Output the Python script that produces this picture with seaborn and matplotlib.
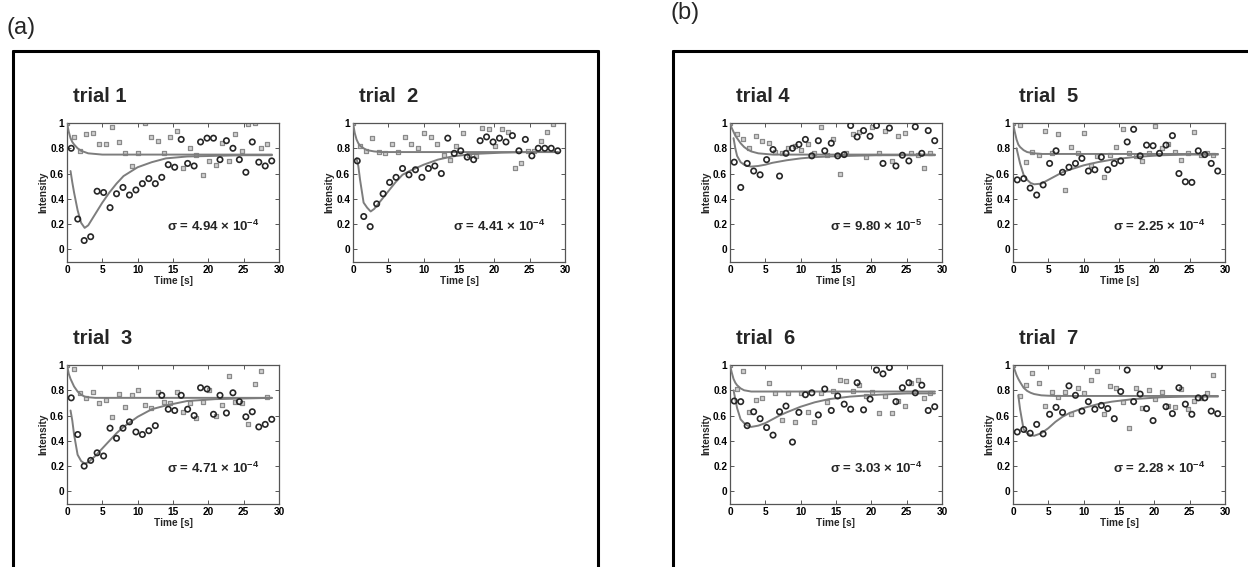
import numpy as np
import pandas as pd
import matplotlib
matplotlib.use("Agg")
import matplotlib.pyplot as plt
import seaborn as sns
from matplotlib.lines import Line2D

nan = np.nan

# ---------------- data ----------------
# sampling times of the two measured series (s)
T_SQ = [0.00, 0.92, 1.83, 2.75, 3.66, 4.58, 5.49, 6.41, 7.32, 8.24, 9.15, 10.07,
        10.98, 11.90, 12.81, 13.73, 14.64, 15.56, 16.47, 17.39, 18.30, 19.22,
        20.13, 21.05, 21.96, 22.88, 23.79, 24.71, 25.62, 26.54, 27.45, 28.37]
T_CI = [0.60, 1.52, 2.43, 3.35, 4.26, 5.18, 6.09, 7.01, 7.92, 8.84, 9.75, 10.67,
        11.58, 12.50, 13.41, 14.33, 15.24, 16.16, 17.07, 17.99, 18.90, 19.82,
        20.73, 21.65, 22.56, 23.48, 24.39, 25.31, 26.22, 27.14, 28.05, 28.97]
# times at which the fitted curves were read
FIT_T = [0.0, 0.25, 0.5, 0.75, 1.0, 1.5, 2.0, 2.5, 3.0, 4.0, 5.0, 6.0, 7.0, 8.0,
         10.0, 12.0, 14.0, 17.0, 21.0, 25.0, 29.0]

trial1_circles = [0.80, 0.24, 0.07, 0.10, 0.46, 0.45, 0.33, 0.44, 0.49, 0.43, 0.47, 0.52,
                  0.56, 0.52, 0.57, 0.67, 0.65, 0.87, 0.68, 0.66, 0.85, 0.88, 0.88, 0.71,
                  0.86, 0.80, 0.71, 0.61, 0.85, 0.69, 0.66, 0.70]
trial1_squares = [1.00, 0.89, 0.78, 0.91, 0.92, 0.83, 0.83, 0.97, 0.85, 0.76, 0.66, 0.76,
                  1.00, 0.89, 0.86, 0.76, 0.89, 0.94, 0.64, 0.80, 0.75, 0.59, 0.70, 0.67,
                  0.84, 0.70, 0.91, 0.78, 0.99, 1.00, 0.80, 0.83]
trial1_fit_sq = [1.00, 0.93, 0.88, 0.85, 0.83, 0.80, 0.78, 0.77, 0.76, 0.755, 0.75, 0.75,
                 0.75, 0.75, 0.75, 0.75, 0.75, 0.75, 0.75, 0.75, 0.75]
trial1_fit_ci = [nan, nan, 0.62, 0.53, 0.45, 0.31, 0.21, 0.17, 0.19, 0.28, 0.37, 0.45,
                 0.52, 0.58, 0.65, 0.69, 0.72, 0.735, 0.74, 0.745, 0.745]

trial2_circles = [0.70, 0.26, 0.18, 0.36, 0.44, 0.53, 0.57, 0.64, 0.59, 0.63, 0.57, 0.64,
                  0.66, 0.60, 0.88, 0.76, 0.78, 0.73, 0.71, 0.86, 0.89, 0.85, 0.88, 0.85,
                  0.90, 0.78, 0.87, 0.74, 0.80, 0.80, 0.80, 0.78]
trial2_squares = [1.00, 0.82, 0.78, 0.88, 0.77, 0.76, 0.83, 0.77, 0.89, 0.83, 0.80, 0.92,
                  0.89, 0.83, 0.75, 0.71, 0.82, 0.92, 0.75, 0.74, 0.96, 0.95, 0.82, 0.95,
                  0.93, 0.64, 0.68, 0.78, 0.78, 0.86, 0.93, 0.99]
trial2_fit_sq = [1.00, 0.92, 0.87, 0.84, 0.82, 0.80, 0.785, 0.78, 0.775, 0.77, 0.77, 0.77,
                 0.77, 0.77, 0.77, 0.77, 0.77, 0.77, 0.77, 0.77, 0.77]
trial2_fit_ci = [nan, nan, 0.72, 0.66, 0.55, 0.37, 0.33, 0.30, 0.32, 0.39, 0.46, 0.53,
                 0.59, 0.62, 0.67, 0.71, 0.735, 0.755, 0.765, 0.77, 0.77]

trial3_circles = [0.74, 0.45, 0.20, 0.245, 0.305, 0.28, 0.50, 0.42, 0.50, 0.55, 0.47, 0.45,
                  0.48, 0.52, 0.76, 0.65, 0.64, 0.76, 0.65, 0.60, 0.82, 0.81, 0.61, 0.76,
                  0.62, 0.78, 0.71, 0.59, 0.63, 0.51, 0.53, 0.57]
trial3_squares = [1.00, 0.97, 0.78, 0.74, 0.79, 0.70, 0.72, 0.59, 0.77, 0.67, 0.76, 0.80,
                  0.68, 0.66, 0.79, 0.71, 0.70, 0.79, 0.63, 0.70, 0.58, 0.705, 0.80, 0.60,
                  0.68, 0.91, 0.705, 0.70, 0.53, 0.85, 0.95, 0.75]
trial3_fit_sq = [1.00, 0.93, 0.89, 0.86, 0.83, 0.79, 0.765, 0.75, 0.745, 0.74, 0.74, 0.74,
                 0.74, 0.74, 0.74, 0.74, 0.74, 0.74, 0.74, 0.74, 0.74]
trial3_fit_ci = [nan, nan, 0.64, 0.56, 0.45, 0.29, 0.24, 0.22, 0.23, 0.28, 0.34, 0.40,
                 0.46, 0.51, 0.59, 0.65, 0.68, 0.715, 0.73, 0.735, 0.74]

trial4_circles = [0.69, 0.49, 0.68, 0.62, 0.59, 0.71, 0.79, 0.58, 0.76, 0.80, 0.83, 0.87,
                  0.74, 0.86, 0.78, 0.84, 0.74, 0.75, 0.98, 0.89, 0.94, 0.895, 0.98, 0.68,
                  0.96, 0.66, 0.745, 0.70, 0.97, 0.76, 0.94, 0.86]
trial4_squares = [1.00, 0.91, 0.87, 0.80, 0.90, 0.855, 0.84, 0.77, 0.76, 0.80, 0.815, 0.79,
                  0.83, 0.76, 0.97, 0.75, 0.87, 0.60, 0.76, 0.91, 0.93, 0.73, 0.97, 0.76,
                  0.94, 0.70, 0.90, 0.92, 0.76, 0.75, 0.645, 0.76]
trial4_fit_sq = [1.00, 0.96, 0.93, 0.90, 0.88, 0.84, 0.81, 0.79, 0.775, 0.76, 0.755, 0.75,
                 0.75, 0.75, 0.75, 0.75, 0.75, 0.75, 0.75, 0.75, 0.75]
trial4_fit_ci = [nan, nan, 0.88, 0.80, 0.74, 0.69, 0.67, 0.66, 0.655, 0.66, 0.67, 0.685,
                 0.695, 0.705, 0.72, 0.73, 0.735, 0.74, 0.745, 0.745, 0.745]

trial5_circles = [0.55, 0.56, 0.485, 0.43, 0.51, 0.68, 0.78, 0.61, 0.65, 0.68, 0.72, 0.62,
                  0.63, 0.73, 0.63, 0.68, 0.70, 0.85, 0.95, 0.74, 0.825, 0.82, 0.76, 0.825,
                  0.90, 0.60, 0.535, 0.53, 0.78, 0.75, 0.68, 0.62]
trial5_squares = [1.00, 0.985, 0.69, 0.77, 0.745, 0.94, 0.76, 0.91, 0.47, 0.81, 0.76, 0.92,
                  0.67, 0.74, 0.57, 0.75, 0.81, 0.95, 0.76, 0.74, 0.70, 0.76, 0.98, 0.80,
                  0.83, 0.77, 0.71, 0.76, 0.93, 0.75, 0.76, 0.75]
trial5_fit_sq = [1.00, 0.93, 0.87, 0.83, 0.81, 0.785, 0.77, 0.765, 0.76, 0.755, 0.755, 0.755,
                 0.755, 0.755, 0.755, 0.755, 0.755, 0.755, 0.755, 0.755, 0.755]
trial5_fit_ci = [nan, nan, 0.80, 0.74, 0.68, 0.59, 0.55, 0.525, 0.515, 0.52, 0.55, 0.58,
                 0.61, 0.63, 0.665, 0.69, 0.71, 0.73, 0.745, 0.75, 0.75]

trial6_circles = [0.715, 0.71, 0.52, 0.63, 0.575, 0.505, 0.445, 0.63, 0.675, 0.39, 0.625, 0.765,
                  0.78, 0.605, 0.81, 0.64, 0.755, 0.69, 0.65, 0.86, 0.645, 0.73, 0.96, 0.93,
                  0.98, 0.71, 0.82, 0.86, 0.78, 0.84, 0.64, 0.67]
trial6_squares = [1.00, 0.81, 0.955, 0.625, 0.72, 0.735, 0.86, 0.78, 0.565, 0.78, 0.55, 0.78,
                  0.63, 0.55, 0.775, 0.71, 0.795, 0.88, 0.87, 0.795, 0.84, 0.755, 0.79, 0.62,
                  0.755, 0.62, 0.715, 0.675, 0.86, 0.88, 0.74, 0.78]
trial6_fit_sq = [1.00, 0.94, 0.89, 0.86, 0.84, 0.815, 0.80, 0.795, 0.79, 0.79, 0.79, 0.79,
                 0.79, 0.79, 0.79, 0.79, 0.79, 0.79, 0.79, 0.79, 0.79]
trial6_fit_ci = [nan, nan, 0.80, 0.73, 0.66, 0.57, 0.54, 0.52, 0.51, 0.52, 0.54, 0.57,
                 0.60, 0.625, 0.67, 0.705, 0.73, 0.75, 0.765, 0.775, 0.775]

trial7_circles = [0.47, 0.49, 0.46, 0.53, 0.455, 0.61, 0.665, 0.625, 0.835, 0.76, 0.635, 0.71,
                  0.65, 0.68, 0.655, 0.575, 0.79, 0.96, 0.71, 0.77, 0.655, 0.56, 0.99, 0.67,
                  0.615, 0.82, 0.69, 0.61, 0.74, 0.74, 0.635, 0.615]
trial7_squares = [1.00, 0.755, 0.84, 0.935, 0.855, 0.675, 0.79, 0.75, 0.79, 0.615, 0.815, 0.775,
                  0.88, 0.95, 0.61, 0.835, 0.82, 0.71, 0.50, 0.815, 0.66, 0.80, 0.73, 0.79,
                  0.675, 0.67, 0.81, 0.655, 0.715, 0.74, 0.78, 0.92]
trial7_fit_sq = [1.00, 0.96, 0.92, 0.89, 0.865, 0.82, 0.795, 0.78, 0.77, 0.76, 0.757, 0.755,
                 0.755, 0.755, 0.755, 0.755, 0.755, 0.755, 0.755, 0.755, 0.755]
trial7_fit_ci = [nan, nan, nan, 0.76, 0.65, 0.49, 0.46, 0.445, 0.44, 0.46, 0.50, 0.55,
                 0.59, 0.62, 0.66, 0.69, 0.71, 0.73, 0.745, 0.75, 0.75]

titles = ["trial 1", "trial  2", "trial  3", "trial 4", "trial  5", "trial  6", "trial  7"]
sigma_values = ["4.94", "4.41", "4.71", "9.80", "2.25", "3.03", "2.28"]
sigma_exponents = ["-4", "-4", "-4", "-5", "-4", "-4", "-4"]
x_ticks = [0, 5, 10, 15, 20, 25, 30]
y_ticks = [0, 0.2, 0.4, 0.6, 0.8, 1.0]
y_tick_labels = ["0", "0.2", "0.4", "0.6", "0.8", "1"]

series = [
    (trial1_circles, trial1_squares, trial1_fit_ci, trial1_fit_sq),
    (trial2_circles, trial2_squares, trial2_fit_ci, trial2_fit_sq),
    (trial3_circles, trial3_squares, trial3_fit_ci, trial3_fit_sq),
    (trial4_circles, trial4_squares, trial4_fit_ci, trial4_fit_sq),
    (trial5_circles, trial5_squares, trial5_fit_ci, trial5_fit_sq),
    (trial6_circles, trial6_squares, trial6_fit_ci, trial6_fit_sq),
    (trial7_circles, trial7_squares, trial7_fit_ci, trial7_fit_sq),
]

# ---------------- layout (pixels in a 1248x567 canvas) ----------------
W, H = 1248, 567
AX_W, AX_H = 212, 139
origins = [(67, 123), (353, 123), (67, 365), (730, 123), (1013, 123), (730, 365), (1013, 365)]

sns.set_theme(style="ticks")
plt.rcParams['font.family'] = ['Liberation Sans', 'DejaVu Sans']
plt.rcParams['mathtext.fontset'] = 'custom'
plt.rcParams['mathtext.rm'] = 'Liberation Sans:bold'
plt.rcParams['mathtext.it'] = 'Liberation Sans:bold'
plt.rcParams['mathtext.bf'] = 'Liberation Sans:bold'
plt.rcParams['mathtext.default'] = 'rm'

fig = plt.figure(figsize=(W / 100, H / 100), dpi=100)
fig.patch.set_facecolor("white")


def fx(px):
    return px / W


def fy(py):
    return 1 - py / H


CURVE_C = "#7d7d7d"
CIRC_C = "#262626"
SQ_C = "#8a8a8a"

for i, ((circ, sq, fci, fsq), (x0, y0)) in enumerate(zip(series, origins)):
    ax = fig.add_axes([fx(x0), fy(y0 + AX_H), AX_W / W, AX_H / H])
    ax.set_facecolor("white")
    df_fit = pd.DataFrame({"t": FIT_T, "sq": fsq, "ci": fci})
    df_sq = pd.DataFrame({"t": T_SQ, "v": sq})
    df_ci = pd.DataFrame({"t": T_CI, "v": circ})

    sns.scatterplot(data=df_sq, x="t", y="v", ax=ax, marker="s", s=8,
                    facecolor="#d2d2d2", edgecolor=SQ_C, linewidth=0.9, zorder=2)
    sns.lineplot(data=df_fit, x="t", y="sq", ax=ax, color=CURVE_C, linewidth=1.4,
                 estimator=None, zorder=3)
    sns.lineplot(data=df_fit, x="t", y="ci", ax=ax, color=CURVE_C, linewidth=1.4,
                 estimator=None, zorder=3)
    sns.scatterplot(data=df_ci, x="t", y="v", ax=ax, marker="o", s=15,
                    facecolor="none", edgecolor=CIRC_C, linewidth=1.2, zorder=4)

    ax.set_xlim(0, 30)
    ax.set_ylim(-0.1, 1.0)
    ax.set_xticks(x_ticks)
    ax.set_yticks(y_ticks)
    ax.set_yticklabels(y_tick_labels)
    ax.tick_params(direction="in", length=3, width=0.7, color="#555555",
                   top=True, right=True, labelsize=7.3, pad=2, labelcolor="black")
    for lab in ax.get_xticklabels() + ax.get_yticklabels():
        lab.set_fontweight("bold")
    for sp in ax.spines.values():
        sp.set_color("#555555")
        sp.set_linewidth(0.9)
    ax.set_xlabel("Time [s]", fontsize=7.3, fontweight="bold", labelpad=1)
    ax.set_ylabel("Intensity", fontsize=7.3, fontweight="bold", labelpad=1)

    ax.text(14.2, 0.185, f"σ = {sigma_values[i]} × 10$^{{{sigma_exponents[i]}}}$",
            fontsize=9.5, fontweight="bold", va="center", ha="left",
            family=["Liberation Sans", "DejaVu Sans"])

    fig.text(fx(x0 + 6), fy(y0 - 26), titles[i], fontsize=14.5, fontweight="bold",
             ha="left", va="center")

# panel frames
lw = 2.2
fig.add_artist(Line2D([fx(12.8), fx(12.8)], [fy(50.5), fy(600)], color="black", lw=lw))
fig.add_artist(Line2D([fx(12.8), fx(597.5)], [fy(50.5), fy(50.5)], color="black", lw=lw))
fig.add_artist(Line2D([fx(597.5), fx(597.5)], [fy(50.5), fy(600)], color="black", lw=lw))
fig.add_artist(Line2D([fx(673), fx(673)], [fy(50.5), fy(600)], color="black", lw=lw))
fig.add_artist(Line2D([fx(673), fx(1300)], [fy(50.5), fy(50.5)], color="black", lw=lw))

fig.text(fx(7), fy(28), "(a)", fontsize=17, ha="left", va="center")
fig.text(fx(670), fy(13), "(b)", fontsize=17, ha="left", va="center")

fig.savefig("out.png", dpi=100, facecolor="white")
